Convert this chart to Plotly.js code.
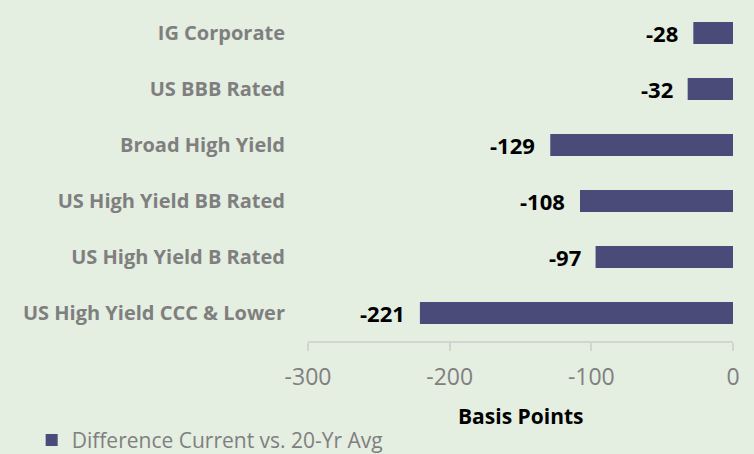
<!DOCTYPE html>
<html>
<head>
<meta charset="utf-8">
<script src="https://cdn.plot.ly/plotly-3.0.1.min.js"></script>
<style>html,body{margin:0;padding:0;background:#E4EEE1;}</style>
</head>
<body>
<div id="chart" style="width:754px;height:454px;"></div>
<script>
const categories = ["IG Corporate", "US BBB Rated", "Broad High Yield", "US High Yield BB Rated", "US High Yield B Rated", "US High Yield CCC & Lower"];
const values = [-28, -32, -129, -108, -97, -221];
const seriesName = "Difference Current vs. 20-Yr Avg";
const xTicks = [-300, -200, -100, 0];
const xTickLabels = ["-300", "-200", "-100", "0"];

const bg = "#E4EEE1";
const barColor = "#4B4B7A";
const font = "Open Sans, Noto Sans, sans-serif";

const trace = {
  type: "bar",
  orientation: "h",
  x: values,
  y: categories,
  name: seriesName,
  marker: {color: barColor},
  width: 0.39,
  hoverinfo: "none",
  showlegend: true
};

const boundaries = [];
for (let i = 0; i <= categories.length; i++) boundaries.push(i - 0.5);

const annotations = values.map((v, i) => ({
  x: v, y: categories[i], xref: "x", yref: "y",
  text: "<b>" + v + "</b>",
  showarrow: false, xanchor: "right", yanchor: "middle",
  xshift: -13,
  font: {family: font, size: 22, color: "#000000"}
}));

annotations.push({
  x: 0.5, y: 0, xref: "paper", yref: "paper",
  text: "<b>Basis Points</b>",
  showarrow: false, xanchor: "center", yanchor: "middle",
  yshift: -75,
  font: {family: font, size: 21, color: "#000000"}
});

const layout = {
  width: 754, height: 454,
  paper_bgcolor: bg, plot_bgcolor: bg,
  margin: {l: 308, r: 21, t: 5, b: 113},
  font: {family: font},
  xaxis: {
    range: [-300, 0],
    tickvals: xTicks,
    ticktext: xTickLabels,
    showgrid: false, zeroline: false,
    showline: true, linecolor: "#D3D3D3", linewidth: 2,
    ticks: "outside", ticklen: 8, tickcolor: "#D3D3D3", tickwidth: 2,
    ticklabelstandoff: 6,
    tickfont: {family: font, size: 23, color: "#808080"},
    fixedrange: true
  },
  yaxis: {
    type: "category",
    categoryorder: "array",
    categoryarray: categories.slice().reverse(),
    range: [-0.5, categories.length - 0.5],
    showgrid: false, zeroline: false, showline: false,
    ticks: "",
    ticklabelstandoff: 22,
    tickfont: {family: font, size: 20, color: "#7F7F7F", weight: "bold"},
    fixedrange: true
  },
  yaxis2: {
    overlaying: "y", side: "right",
    range: [-0.5, categories.length - 0.5],
    tickvals: boundaries,
    showticklabels: false,
    showgrid: false, zeroline: false,
    showline: true, linecolor: "#D3D3D3", linewidth: 2,
    ticks: "inside", ticklen: 7, tickcolor: "#D3D3D3", tickwidth: 2,
    fixedrange: true
  },
  bargap: 0.6,
  showlegend: true,
  legend: {
    orientation: "h",
    xref: "container", yref: "container",
    x: 0.042, y: 0.03, xanchor: "left", yanchor: "middle",
    font: {family: font, size: 21, color: "#7F7F7F"},
    bgcolor: "rgba(0,0,0,0)",
    itemwidth: 30
  },
  annotations: annotations
};

Plotly.newPlot("chart", [trace], layout, {displayModeBar: false, staticPlot: true});
</script>
</body>
</html>
